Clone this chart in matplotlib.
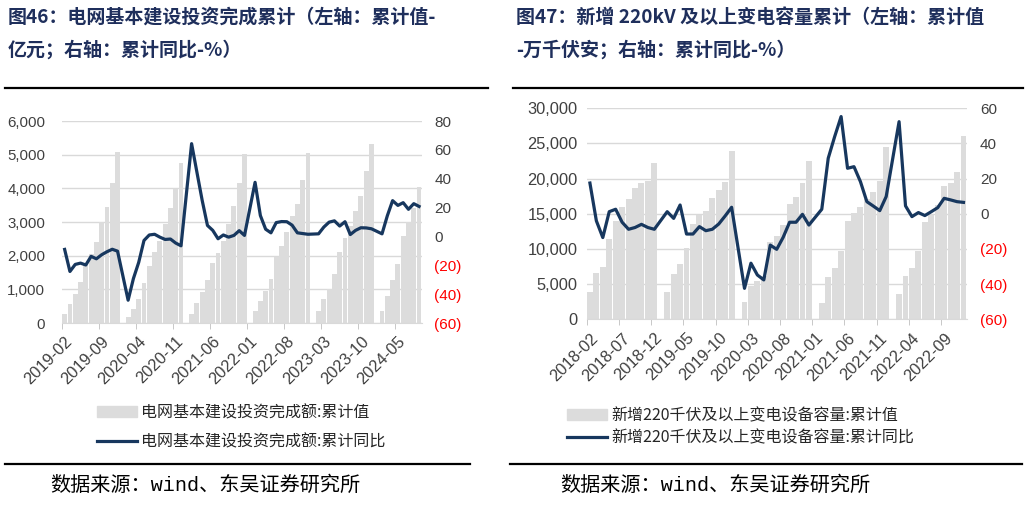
import numpy as np
import matplotlib
matplotlib.use("Agg")
import matplotlib.pyplot as plt
from matplotlib.patches import Patch
from matplotlib.lines import Line2D

plt.rcParams['font.family'] = ['Liberation Sans', 'Noto Sans CJK SC', 'DejaVu Sans']

# ---- chart 46: grid investment, 2019-02 .. 2024-09 (January has no value) ----
inv_years = [2019, 2020, 2021, 2022, 2023, 2024]
inv_value = [
    [280, 550, 855, 1207, 1760, 2055, 2415, 2987, 3460, 4155, 5065],
    [172, 415, 722, 1187, 1700, 2097, 2440, 2943, 3412, 3991, 4747],
    [277, 594, 910, 1275, 1790, 2077, 2448, 2928, 3462, 4155, 5010],
    [346, 665, 939, 1304, 1960, 2292, 2700, 3182, 3545, 4249, 5059],
    [355, 711, 1010, 1448, 2095, 2510, 2880, 3325, 3765, 4505, 5316],
    [360, 805, 1265, 1759, 2589, 3014, 3425, 4032],
]
inv_yoy = [
    [-9.0, -24.3, -19.4, -18.5, -19.8, -13.8, -15.5, -12.7, -10.6, -8.9, -10.2],
    [-44.2, -29.2, -18.0, -2.8, 1.0, 1.5, -0.5, -2.1, -1.8, -4.6, -6.5],
    [64.3, 44.6, 25.0, 7.6, 4.2, -1.6, 1.0, -0.5, 0.7, 4.0, 0.7],
    [37.5, 14.5, 5.0, 2.5, 9.6, 10.3, 10.2, 7.8, 2.5, 2.0, 1.5],
    [1.8, 6.5, 9.9, 10.8, 7.2, 10.2, 1.3, 4.2, 6.0, 5.9, 5.3],
    [1.8, 14.3, 24.8, 21.5, 23.4, 18.8, 22.7, 20.8],
]

# ---- chart 47: new 220kV+ substation capacity, 2018-02 .. 2022-12 ----
cap_years = [2018, 2019, 2020, 2021, 2022]
cap_value = [
    [3880, 6590, 7440, 11450, 14000, 16000, 17100, 18600, 19400, 19716, 22275],
    [3934, 6398, 7867, 10095, 13507, 14834, 15450, 17299, 18389, 19479, 23981],
    [2400, 4737, 5400, 6100, 11043, 11850, 13450, 16370, 17437, 19336, 22512],
    [2370, 6066, 7346, 9716, 13981, 15071, 15924, 17109, 18152, 19668, 24550],
    [3602, 6180, 7250, 9711, 13880, 14900, 16300, 18954, 19430, 20950, 26066],
]
cap_yoy = [
    [17.5, -4.0, -13.5, 1.2, 2.6, -4.8, -8.8, -7.8, -6.0, -7.8, -8.8],
    [1.2, -2.6, 5.0, -11.5, -11.5, -7.3, -9.6, -8.8, -5.8, -1.2, 3.7],
    [-42.4, -28.1, -34.8, -37.6, -17.8, -20.2, -13.4, -4.8, -4.8, -0.3, -6.4],
    [2.6, 31.6, 43.9, 55.3, 25.9, 26.8, 18.3, 6.9, 4.4, 1.8, 9.8],
    [52.4, 4.5, -1.6, 0.7, -1.0, 1.2, 3.5, 8.8, 7.9, 6.9, 6.5],
]

BAR = '#DCDCDC'
LINE = '#17375E'
GRID = '#D9D9D9'
TXT = '#404040'
W, H = 1028, 511
CJK = ['Noto Sans CJK SC', 'DejaVu Sans']


def monthly(years, groups):
    # months Feb..Dec of every year, with an empty January between years
    labels, vals = [], []
    for k, (y, g) in enumerate(zip(years, groups)):
        if k > 0:
            labels.append(f'{y}-01')
            vals.append(np.nan)
        for m, v in enumerate(g):
            labels.append(f'{y}-{m + 2:02d}')
            vals.append(v)
    return labels, np.array(vals, dtype=float)


def px_axes(fig, x0, x1, y0, y1):
    return fig.add_axes([x0 / W, 1 - y1 / H, (x1 - x0) / W, (y1 - y0) / H])


def panel(ax, labels, bars, yoy, step, ymax, ystep, rticks, lpad, rpad, lsize):
    x = np.arange(len(labels))
    ax.bar(x, bars, width=0.92, color=BAR, zorder=2)
    ax.set_xlim(-0.5, len(labels) - 0.5)
    ax.set_ylim(0, ymax)
    ax.set_yticks(np.arange(0, ymax + 1, ystep))
    ax.yaxis.set_major_formatter(matplotlib.ticker.FuncFormatter(lambda v, p: f'{int(v):,}'))
    ax.grid(axis='y', color=GRID, linewidth=1.0, zorder=0)
    for s in ['top', 'right', 'left']:
        ax.spines[s].set_visible(False)
    ax.spines['bottom'].set_color(GRID)
    ax.tick_params(axis='y', length=0, pad=lpad, labelsize=lsize, labelcolor=TXT)
    ax.set_xticks(x[::step])
    ax.set_xticklabels(labels[::step], rotation=45, ha='right', va='top',
                       rotation_mode='anchor', fontsize=11.8, color=TXT)
    ax.tick_params(axis='x', length=0, pad=8)
    ax.set_xticks(x[::step] - 0.5, minor=True)
    ax.tick_params(axis='x', which='minor', length=4, color='#BFBFBF')

    ax2 = ax.twinx()
    ok = ~np.isnan(yoy)
    ax2.plot(x[ok], yoy[ok], color=LINE, linewidth=2.3, zorder=3)
    ax2.set_ylim(rticks[0], rticks[-1])
    ax2.set_yticks(rticks)
    ax2.set_yticklabels([f'({abs(t)})' if t < 0 else f'{t}' for t in rticks])
    for lab, t in zip(ax2.get_yticklabels(), rticks):
        lab.set_color('#FF0000' if t < 0 else TXT)
    ax2.tick_params(axis='y', length=0, pad=rpad, labelsize=11)
    for s in ax2.spines.values():
        s.set_visible(False)
    return ax2


fig = plt.figure(figsize=(W / 100, H / 100), dpi=100)

# left panel
labs1, bars1 = monthly(inv_years, inv_value)
_, yoy1 = monthly(inv_years, inv_yoy)
axL = px_axes(fig, 62, 421.7, 121, 323)
panel(axL, labs1, bars1, yoy1, 7, 6000, 1000, list(range(-60, 81, 20)), 12, 9, 10.8)

# right panel
labs2, bars2 = monthly(cap_years, cap_value)
_, yoy2 = monthly(cap_years, cap_yoy)
axR = px_axes(fig, 586.7, 966.7, 108.3, 319.3)
panel(axR, labs2, bars2, yoy2, 5, 30000, 5000, list(range(-60, 61, 20)), 6.5, 9.5, 11.8)

# titles
tcol = '#1F2F5C'
tkw = dict(fontsize=13.7, fontweight='bold', color=tcol, family=CJK, va='center', ha='left')
fig.text(8 / W, 1 - 17 / H, '图46：电网基本建设投资完成累计（左轴：累计值-', **tkw)
fig.text(8 / W, 1 - 50 / H, '亿元；右轴：累计同比-%）', **tkw)
fig.text(516 / W, 1 - 17 / H, '图47：新增 220kV 及以上变电容量累计（左轴：累计值', **tkw)
fig.text(516 / W, 1 - 50 / H, '-万千伏安；右轴：累计同比-%）', **tkw)

# rule lines
for (xa, xb, y) in [(5, 488, 88), (513, 1023, 88), (5, 470, 464), (510, 1022, 464)]:
    fig.add_artist(Line2D([xa / W, xb / W], [1 - y / H, 1 - y / H], color='black', linewidth=1.6))

# legends
lkw = dict(frameon=False, handlelength=2.5, handleheight=0.7, handletextpad=0.25,
           borderpad=0, borderaxespad=0, loc='upper left',
           prop={'family': CJK, 'size': 11.5})
h1 = [Patch(color=BAR), Line2D([], [], color=LINE, linewidth=2.3)]
leg1 = fig.legend(h1, ['电网基本建设投资完成额:累计值', '电网基本建设投资完成额:累计同比'],
                  bbox_to_anchor=(97 / W, 1 - 404 / H), labelspacing=0.78, **lkw)
leg2 = fig.legend(h1, ['新增220千伏及以上变电设备容量:累计值', '新增220千伏及以上变电设备容量:累计同比'],
                  bbox_to_anchor=(567 / W, 1 - 407 / H), labelspacing=0.35, **lkw)
for lg in (leg1, leg2):
    for t in lg.get_texts():
        t.set_color('#262626')

# sources
skw = dict(fontsize=14.5, color='black', family=['Liberation Mono', 'Noto Sans CJK SC', 'DejaVu Sans'],
           va='center', ha='left')
fig.text(50 / W, 1 - 485 / H, '数据来源：wind、东吴证券研究所', **skw)
fig.text(560 / W, 1 - 485 / H, '数据来源：wind、东吴证券研究所', **skw)

fig.savefig('out.png', dpi=100, facecolor='white')
